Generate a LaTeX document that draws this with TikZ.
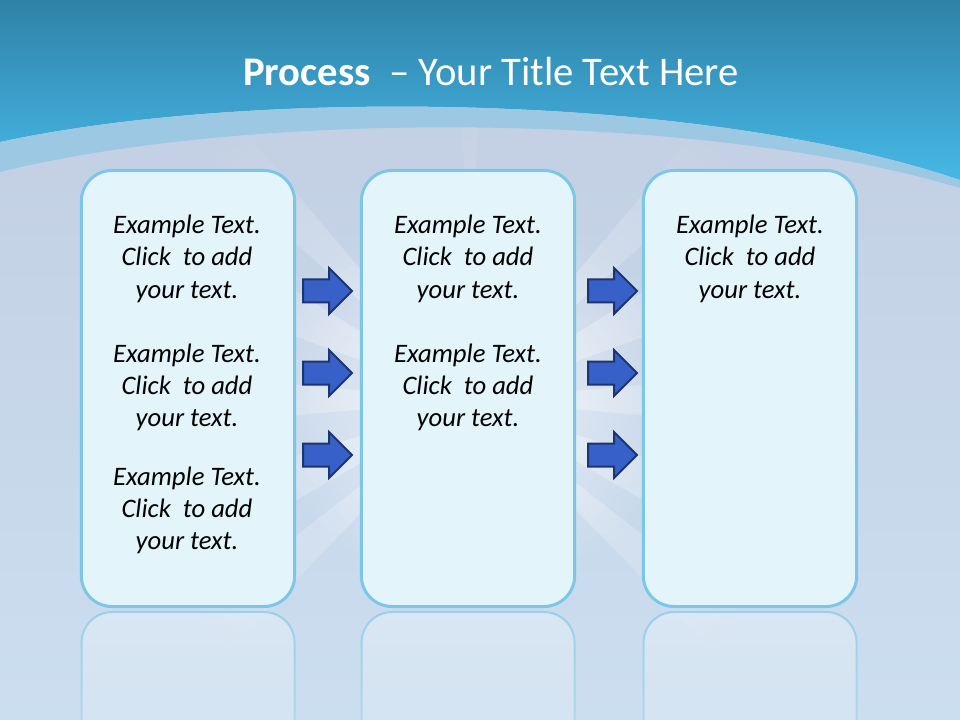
\documentclass[tikz,border=0pt]{standalone}
\usepackage{fontspec}
\setmainfont{Carlito}
\usetikzlibrary{fadings}
\tikzfading[name=glowfade, inner color=transparent!0, outer color=transparent!100]
\tikzfading[name=reflfade, top color=transparent!0, bottom color=transparent!55]
\definecolor{topblue}{HTML}{2E82A8}
\definecolor{midblue}{HTML}{46B8E6}
\definecolor{bandc}{HTML}{9DC8E4}
\definecolor{bgtop}{HTML}{C2CDE1}
\definecolor{bgbot}{HTML}{CBDEF0}
\definecolor{boxfill}{HTML}{E3F4FB}
\definecolor{boxline}{HTML}{7CC6E7}
\definecolor{reflline}{HTML}{93CEEB}
\definecolor{arrfill}{HTML}{3760C9}
\definecolor{arrline}{HTML}{1C3470}
\tikzset{
  procbox/.style={draw=boxline, fill=boxfill, line width=2.25pt, rounded corners=23pt,
    minimum width=160pt, minimum height=327pt, inner sep=0pt},
  reflbox/.style={draw=reflline, fill=white, fill opacity=0.3, draw opacity=0.9,
    line width=1.5pt, rounded corners=23pt, path fading=reflfade},
  arrstyle/.style={fill=arrfill, draw=arrline, line width=1.5pt, line join=miter},
  barrow/.pic={\draw[arrstyle] (0,-11.5) -- (26,-11.5) -- (26,-23) -- (49,0) -- (26,23) -- (26,11.5) -- (0,11.5) -- cycle;},
  txt/.style={anchor=base, inner sep=0pt, text=black, font=\fontsize{20}{24}\selectfont\itshape},
}
\newcommand\extext[3]{%
  \foreach \k/\s in {0/{Example Text.},1/{Click\ \ to add},2/{your text.}}{%
    \node[txt] (#1l\k) at (#2,{#3+32*\k}) {\s};
  }%
}
\newcommand\ray[2]{(470,400) -- ([shift={(470,400)}]#1:650) -- ([shift={(470,400)}]#2:650) -- cycle}
\begin{document}
\begin{tikzpicture}[x=0.75pt,y=-0.75pt]
\useasboundingbox (0,0) rectangle (960,720);
% background
\shade[top color=bgtop, bottom color=bgbot] (0,0) rectangle (960,720);
% light rays
\begin{scope}
  \clip \ray{-5}{5} \ray{175}{185} \ray{-32}{-20} \ray{200}{212}
        \ray{18}{30} \ray{150}{162} \ray{38}{46} \ray{134}{142}
        \ray{-50}{-42} \ray{222}{230};
  \fill[white, path fading=glowfade, fill opacity=0.45] (470,400) circle (360);
\end{scope}
\begin{scope}
  \clip \ray{-91.5}{-88.5};
  \fill[white, path fading=glowfade, fill opacity=0.25] (470,400) circle (360);
\end{scope}
\fill[white, path fading=glowfade, fill opacity=0.7] (470,400) ellipse (210 and 190);
% top blue
\shade[top color=topblue, bottom color=midblue] (0,0) -- (960,0) -- (960,180)
  .. controls (700,92) and (250,88) .. (0,142) -- cycle;
\fill[bandc] (0,142) .. controls (250,88) and (700,92) .. (960,180) -- (960,188)
  .. controls (700,110) and (250,110) .. (0,172) -- cycle;
% title
\node[anchor=base, inner sep=0pt, text=white, font=\fontsize{30.5}{36}\selectfont] (title)
  at (491,86) {\textbf{Process}\ \ – Your Title Text Here};
% reflections
\foreach \cx in {188,468,750}{
  \path[reflbox] ({\cx-106.5},760) -- ({\cx-106.5},612) -- ({\cx+106.5},612) -- ({\cx+106.5},760);
}
% boxes
\node[procbox] (b1) at (188,388.5) {};
\node[procbox] (b2) at (468,388.5) {};
\node[procbox] (b3) at (750,388.5) {};
% arrows
\pic at (303,291) {barrow};
\pic at (303,373) {barrow};
\pic at (303,455) {barrow};
\pic at (588,291) {barrow};
\pic at (588,373) {barrow};
\pic at (588,455) {barrow};
% texts
\extext{ta}{187}{234}
\extext{tb}{187}{362}
\extext{tc}{187}{485}
\extext{td}{468}{234}
\extext{te}{468}{362}
\extext{tf}{750}{234}
\end{tikzpicture}
\end{document}
